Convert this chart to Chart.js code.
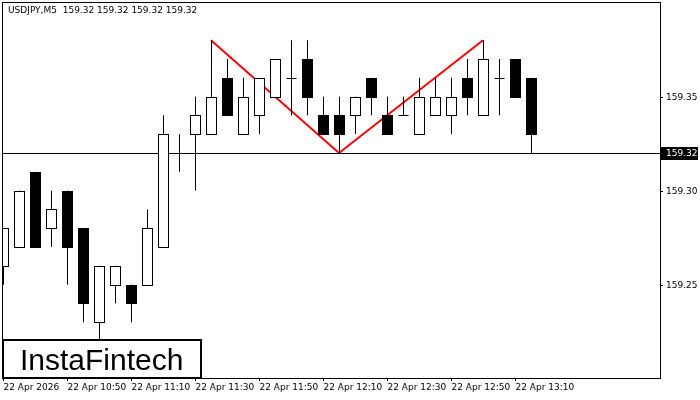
<!DOCTYPE html>
<html><head><meta charset="utf-8">
<script src="https://cdn.jsdelivr.net/npm/chart.js@4"></script>
<style>html,body{margin:0;padding:0;background:#fff}#w{width:700px;height:400px}</style>
</head><body><div id="w"><canvas id="c"></canvas></div>
<script>
const opens  = [159.26,159.27,159.31,159.28,159.30,159.28,159.23,159.25,159.25,159.25,159.27,159.32,159.33,159.33,159.36,159.33,159.34,159.35,159.36,159.37,159.34,159.34,159.34,159.36,159.34,159.34,159.33,159.34,159.34,159.36,159.34,159.36,159.37,159.36];
const highs  = [159.28,159.30,159.31,159.30,159.30,159.28,159.26,159.26,159.25,159.29,159.34,159.33,159.35,159.38,159.37,159.36,159.36,159.37,159.38,159.38,159.35,159.35,159.35,159.36,159.35,159.35,159.36,159.36,159.36,159.37,159.38,159.37,159.37,159.36];
const lows   = [159.25,159.27,159.27,159.27,159.25,159.23,159.22,159.24,159.23,159.25,159.27,159.31,159.30,159.33,159.34,159.33,159.33,159.35,159.34,159.34,159.33,159.32,159.33,159.34,159.33,159.34,159.33,159.34,159.33,159.34,159.34,159.34,159.35,159.32];
const closes = [159.28,159.30,159.27,159.29,159.27,159.24,159.26,159.26,159.24,159.28,159.33,159.32,159.34,159.35,159.34,159.35,159.36,159.37,159.36,159.35,159.33,159.33,159.35,159.35,159.33,159.34,159.35,159.35,159.35,159.35,159.37,159.36,159.35,159.33];
const timeLabels = ["22 Apr 2026","22 Apr 10:50","22 Apr 11:10","22 Apr 11:30","22 Apr 11:50","22 Apr 12:10","22 Apr 12:30","22 Apr 12:50","22 Apr 13:10"];
const timeIdx = [0,4,8,12,16,20,24,28,32];
const priceTicks = [159.25,159.30,159.35];
const currentPrice = 159.32;
const patternX = [13,21,30];
const patternY = [159.38,159.32,159.38];

const candlePlugin = {
  id:'candles',
  afterDatasetsDraw(chart){
    const {ctx, chartArea:a, scales:{x,y}} = chart;
    ctx.save();
    ctx.beginPath(); ctx.rect(a.left,a.top,a.right-a.left,a.bottom-a.top); ctx.clip();
    ctx.strokeStyle='#000'; ctx.lineWidth=1;
    const py = Math.round(y.getPixelForValue(currentPrice))+0.5;
    ctx.beginPath(); ctx.moveTo(a.left,py); ctx.lineTo(a.right,py); ctx.stroke();
    for(let i=0;i<opens.length;i++){
      const cx=Math.round(x.getPixelForValue(i))+0.5;
      const yh=y.getPixelForValue(highs[i]), yl=y.getPixelForValue(lows[i]);
      const yo=y.getPixelForValue(opens[i]), yc=y.getPixelForValue(closes[i]);
      ctx.beginPath(); ctx.moveTo(cx,yh); ctx.lineTo(cx,yl); ctx.stroke();
      const top=Math.round(Math.min(yo,yc))+0.5, bot=Math.round(Math.max(yo,yc))+0.5;
      if(bot-top<1){ ctx.beginPath(); ctx.moveTo(cx-5,top); ctx.lineTo(cx+5,top); ctx.stroke(); continue; }
      ctx.fillStyle = closes[i]<opens[i] ? '#000' : '#fff';
      ctx.fillRect(cx-5,top,10,bot-top); ctx.strokeRect(cx-5,top,10,bot-top);
    }
    ctx.restore();
  },
  afterDraw(chart){
    const {ctx, chartArea:a, scales:{x,y}} = chart;
    ctx.save();
    ctx.strokeStyle='#000'; ctx.lineWidth=1;
    ctx.strokeRect(a.left-0.5,a.top-0.5,a.right-a.left+1,a.bottom-a.top+1);
    ctx.font='9px "DejaVu Sans", sans-serif'; ctx.fillStyle='#000'; ctx.textBaseline='middle';
    priceTicks.forEach(v=>{
      const yy=Math.round(y.getPixelForValue(v))+0.5;
      ctx.beginPath(); ctx.moveTo(a.right,yy); ctx.lineTo(a.right+3,yy); ctx.stroke();
      ctx.fillText(v.toFixed(2), a.right+6, yy);
    });
    timeIdx.forEach((k,j)=>{
      const xx=Math.round(x.getPixelForValue(k))+0.5;
      ctx.beginPath(); ctx.moveTo(xx,a.bottom); ctx.lineTo(xx,a.bottom+3); ctx.stroke();
      ctx.fillText(timeLabels[j], xx, a.bottom+10);
    });
    const py=Math.round(y.getPixelForValue(currentPrice));
    ctx.fillStyle='#000'; ctx.fillRect(a.right+1,py-6,37,13);
    ctx.fillStyle='#fff'; ctx.fillText(currentPrice.toFixed(2), a.right+6, py+1);
    ctx.fillStyle='#000';
    ctx.fillText('USDJPY,M5  '+[1,2,3,4].map(()=>currentPrice.toFixed(2)).join(' '), 8, 11);
    ctx.fillStyle='#fff'; ctx.fillRect(3,340,198,38);
    ctx.lineWidth=2; ctx.strokeRect(3,340,198,38);
    ctx.fillStyle='#000'; ctx.font='30px "Liberation Sans", sans-serif'; ctx.textBaseline='alphabetic';
    ctx.fillText('InstaFintech', 20, 370);
    ctx.restore();
  }
};

new Chart(document.getElementById('c'),{
  type:'scatter',
  data:{datasets:[{
    data: patternX.map((v,i)=>({x:v,y:patternY[i]})),
    showLine:true, borderColor:'#ff0000', borderWidth:2, pointRadius:0, tension:0
  }]},
  options:{
    responsive:true, maintainAspectRatio:false, animation:false,
    layout:{padding:{left:3,top:3,right:40,bottom:22}},
    plugins:{legend:{display:false},tooltip:{enabled:false}},
    scales:{
      x:{type:'linear',min:0,max:41.06,display:false},
      y:{min:159.2003,max:159.3998,display:false}
    }
  },
  plugins:[candlePlugin]
});
</script></body></html>
